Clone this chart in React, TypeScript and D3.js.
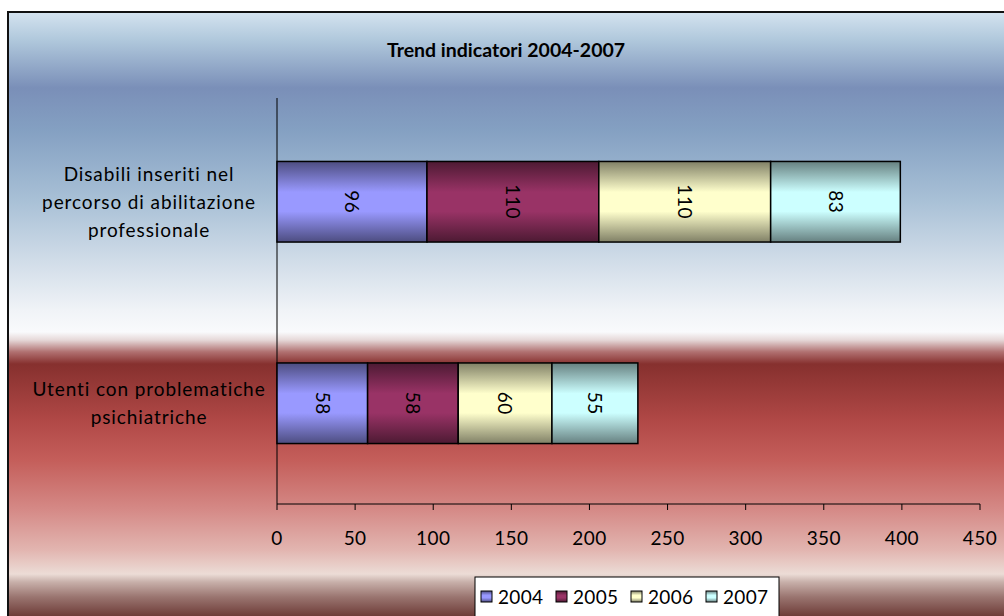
import React from "react";
import * as d3 from "d3";

const title = "Trend indicatori 2004-2007";
const categories = [
  ["Disabili inseriti nel", "percorso di abilitazione", "professionale"],
  ["Utenti con problematiche", "psichiatriche"],
];
const categoryKeys = ["Disabili", "Utenti"];
const seriesNames = ["2004", "2005", "2006", "2007"];
const values2004 = [96, 58];
const values2005 = [110, 58];
const values2006 = [110, 60];
const values2007 = [83, 55];
const seriesValues = [values2004, values2005, values2006, values2007];
const xTicks = [0, 50, 100, 150, 200, 250, 300, 350, 400, 450];
const seriesLight = ["#9999ff", "#993366", "#ffffcc", "#ccffff"];
const seriesDark = ["#4d4d80", "#4d1a33", "#808066", "#668080"];

const bgStops: [number, string][] = [
  [12, "#d4e3ef"],
  [40, "#b0c8dc"],
  [88, "#7a8fb8"],
  [130, "#84a0c2"],
  [200, "#a8c0d6"],
  [260, "#d0dce8"],
  [310, "#f0f3f7"],
  [332, "#f9fafc"],
  [340, "#e6d8d8"],
  [352, "#b07070"],
  [364, "#86302e"],
  [420, "#b04846"],
  [460, "#c45e5a"],
  [510, "#d58a87"],
  [550, "#e2b5b0"],
  [574, "#ecdcd6"],
  [582, "#c8b0aa"],
  [597, "#9a7570"],
  [616, "#6e3c38"],
];

const FONT = "Lato, 'Open Sans', sans-serif";

export default function App() {
  const W = 1004;
  const H = 616;
  const x = d3.scaleLinear().domain([0, 450]).range([277, 980]);
  const y = d3
    .scaleBand<string>()
    .domain(categoryKeys)
    .range([101, 504])
    .paddingInner(0.6)
    .paddingOuter(0.3);

  const stacked = categoryKeys.map((_, ci) => {
    let acc = 0;
    return seriesValues.map((vals, si) => {
      const x0 = acc;
      acc += vals[ci];
      return { si, x0, x1: acc, v: vals[ci] };
    });
  });

  const legendX = [481, 556, 631, 706];

  return (
    <svg
      width={W}
      height={H}
      style={{ position: "absolute", left: 0, top: 0, fontFamily: FONT }}
    >
      <defs>
        <linearGradient id="bg" gradientUnits="userSpaceOnUse" x1={0} y1={12} x2={0} y2={616}>
          {bgStops.map(([p, c], i) => (
            <stop key={i} offset={(p - 12) / (616 - 12)} stopColor={c} />
          ))}
        </linearGradient>
        {seriesNames.map((s, i) => (
          <linearGradient key={s} id={`g${i}`} x1={0} y1={0} x2={0} y2={1}>
            <stop offset={0} stopColor={seriesDark[i]} />
            <stop offset={0.38} stopColor={seriesLight[i]} />
            <stop offset={0.62} stopColor={seriesLight[i]} />
            <stop offset={1} stopColor={seriesDark[i]} />
          </linearGradient>
        ))}
      </defs>
      <rect x={0} y={0} width={W} height={H} fill="#ffffff" />
      <rect x={8} y={12} width={W + 10} height={H + 10} fill="url(#bg)" stroke="#111" strokeWidth={2} />
      <text x={506} y={57} textAnchor="middle" fontSize={19.5} fontWeight="bold" fill="#000">
        {title}
      </text>

      {/* axes */}
      <line x1={x(0)} x2={x(0)} y1={98} y2={504} stroke="#000" strokeWidth={1} />
      <line x1={x(0)} x2={x(450)} y1={504} y2={504} stroke="#000" strokeWidth={1} />
      {xTicks.map((t) => (
        <g key={t}>
          <line x1={x(t)} x2={x(t)} y1={504} y2={510} stroke="#000" strokeWidth={1} />
          <text x={x(t)} y={545} textAnchor="middle" fontSize={19} fill="#000" letterSpacing={0.4}>
            {t}
          </text>
        </g>
      ))}

      {/* category labels */}
      {categoryKeys.map((k, ci) => {
        const lines = categories[ci];
        const cy = (y(k) as number) + y.bandwidth() / 2;
        const lh = 28;
        const start = cy - ((lines.length - 1) * lh) / 2;
        return (
          <text key={k} textAnchor="middle" fontSize={19} fill="#000" letterSpacing={0.9}>
            {lines.map((l, li) => (
              <tspan key={li} x={149} y={start + li * lh + 7}>
                {l}
              </tspan>
            ))}
          </text>
        );
      })}

      {/* bars */}
      {categoryKeys.map((k, ci) =>
        stacked[ci].map((seg) => {
          const y0 = y(k) as number;
          const bw = y.bandwidth();
          const cx = (x(seg.x0) + x(seg.x1)) / 2;
          const cy = y0 + bw / 2;
          return (
            <g key={`${k}-${seg.si}`}>
              <rect
                x={x(seg.x0)}
                y={y0}
                width={x(seg.x1) - x(seg.x0)}
                height={bw}
                fill={`url(#g${seg.si})`}
                stroke="#000"
                strokeWidth={1.5}
              />
              <text
                transform={`translate(${cx},${cy}) rotate(90)`}
                textAnchor="middle"
                dy="0.35em"
                fontSize={19}
                letterSpacing={0.6}
                fill="#000"
              >
                {seg.v}
              </text>
            </g>
          );
        })
      )}

      {/* legend */}
      <rect x={475} y={577} width={304} height={50} fill="#fff" stroke="#000" strokeWidth={1} />
      {seriesNames.map((s, i) => (
        <g key={s}>
          <rect
            x={legendX[i]}
            y={591}
            width={11}
            height={11}
            fill={`url(#g${i})`}
            stroke="#000"
            strokeWidth={1}
          />
          <text x={legendX[i] + 17} y={604} fontSize={19} letterSpacing={0.3} fill="#000">
            {s}
          </text>
        </g>
      ))}
    </svg>
  );
}
